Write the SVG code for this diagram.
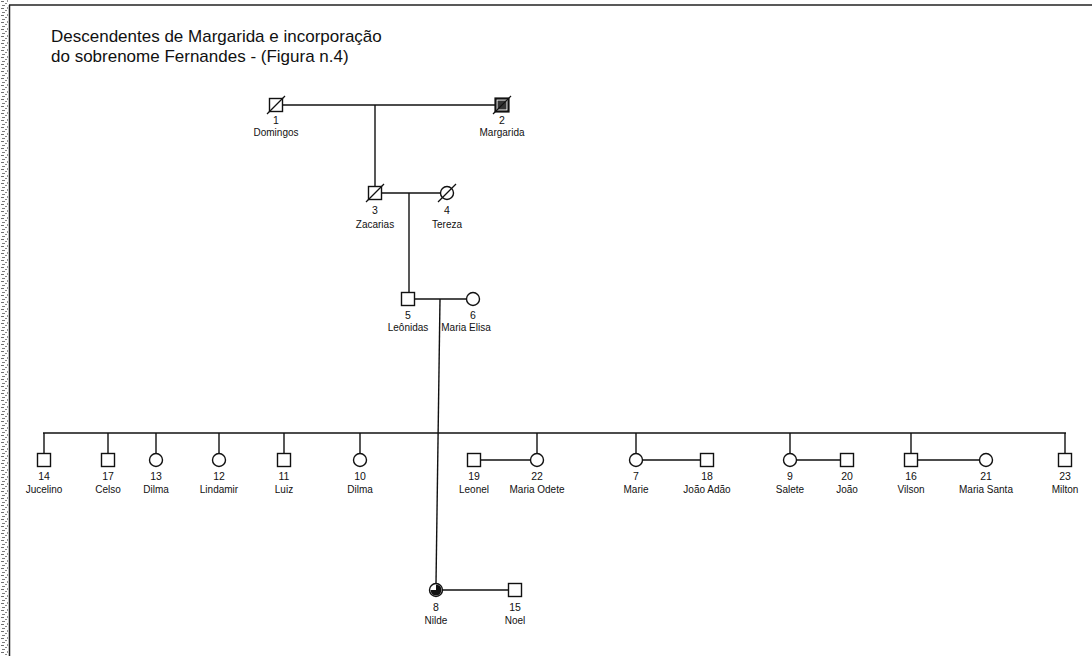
<svg xmlns="http://www.w3.org/2000/svg" width="1092" height="656" viewBox="0 0 1092 656">
  <style>
    .sym { fill: #fff; stroke: #111; stroke-width: 1.4; }
    .ln { fill: none; stroke: #111; stroke-width: 1.4; }
    .dead { stroke: #111; stroke-width: 1.2; }
    .num { font-family: "Liberation Sans", Arial, sans-serif; font-size: 10.5px; text-anchor: middle; fill: #111; }
    .nm { font-family: "Liberation Sans", Arial, sans-serif; font-size: 10px; text-anchor: middle; fill: #111; }
    .title { font-family: "Liberation Sans", Arial, sans-serif; font-size: 17px; fill: #111; }
  </style>
  <defs>
    <rect id="sq" x="-6.5" y="-6.5" width="13" height="13"/>
    <circle id="ci" r="6.5"/>
    <line id="slash" x1="-9" y1="9" x2="9" y2="-9"/>
    <pattern id="grain" width="9" height="7" patternUnits="userSpaceOnUse">
      <rect x="1" y="1" width="3" height="1" fill="#6f6f6f"/>
      <rect x="5" y="3" width="2" height="1" fill="#8a8a8a"/>
      <rect x="2" y="5" width="3" height="1" fill="#7d7d7d"/>
      <rect x="7" y="0" width="1" height="2" fill="#9a9a9a"/>
    </pattern>
  </defs>

  <rect width="1092" height="656" fill="#fff"/>

  <!-- page frame -->
  <g id="frame">
    <rect x="0" y="0" width="8" height="656" fill="url(#grain)"/>
    <line x1="9.5" y1="5" x2="9.5" y2="656" stroke="#222" stroke-width="1.5"/>
    <line x1="9" y1="5" x2="1092" y2="5" stroke="#222" stroke-width="1.5"/>
  </g>

  <g id="title">
    <text class="title" x="51" y="42">Descendentes de Margarida e incorporação</text>
    <text class="title" x="51" y="62">do sobrenome Fernandes - (Figura n.4)</text>
  </g>

  <!-- connectors -->
  <g id="connectors" class="ln">
    <!-- 1 x 2 -->
    <line x1="282.5" y1="105" x2="495.5" y2="105"/>
    <line x1="375" y1="105" x2="375" y2="186.5"/>
    <!-- 3 x 4 -->
    <line x1="381.5" y1="193" x2="440.5" y2="193"/>
    <line x1="409" y1="193" x2="409" y2="292.5"/>
    <!-- 5 x 6 -->
    <line x1="414.5" y1="299" x2="466.5" y2="299"/>
    <line x1="440" y1="299" x2="436" y2="583.5"/>
    <!-- sibship -->
    <line x1="43" y1="433" x2="1066" y2="433"/>
    <line x1="44" y1="433" x2="44" y2="453.5"/>
    <line x1="108" y1="433" x2="108" y2="453.5"/>
    <line x1="156" y1="433" x2="156" y2="453.5"/>
    <line x1="219" y1="433" x2="219" y2="453.5"/>
    <line x1="284" y1="433" x2="284" y2="453.5"/>
    <line x1="360" y1="433" x2="360" y2="453.5"/>
    <line x1="537" y1="433" x2="537" y2="453.5"/>
    <line x1="636" y1="433" x2="636" y2="453.5"/>
    <line x1="790" y1="433" x2="790" y2="453.5"/>
    <line x1="911" y1="433" x2="911" y2="453.5"/>
    <line x1="1065" y1="433" x2="1065" y2="453.5"/>
    <!-- marriages in the sibship -->
    <line x1="480.5" y1="460" x2="530.5" y2="460"/>
    <line x1="642.5" y1="460" x2="700.5" y2="460"/>
    <line x1="796.5" y1="460" x2="840.5" y2="460"/>
    <line x1="917.5" y1="460" x2="979.5" y2="460"/>
    <!-- 8 x 15 -->
    <line x1="442.5" y1="590" x2="508.5" y2="590"/>
  </g>

  <!-- generation I -->
  <g id="n1">
    <use href="#sq" class="sym" x="276" y="105"/>
    <use href="#slash" class="dead" x="276" y="105"/>
    <text class="num" x="276" y="124">1</text>
    <text class="nm" x="276" y="136">Domingos</text>
  </g>
  <g id="n2">
    <use href="#sq" class="sym" x="502" y="105" style="stroke-width:2.2"/>
    <rect x="497.5" y="100.5" width="9" height="9" fill="#333"/>
    <use href="#slash" class="dead" x="502" y="105"/>
    <text class="num" x="502" y="124">2</text>
    <text class="nm" x="502" y="136">Margarida</text>
  </g>

  <!-- generation II -->
  <g id="n3">
    <use href="#sq" class="sym" x="375" y="193"/>
    <use href="#slash" class="dead" x="375" y="193"/>
    <text class="num" x="375" y="214">3</text>
    <text class="nm" x="375" y="228">Zacarias</text>
  </g>
  <g id="n4">
    <use href="#ci" class="sym" x="447" y="193"/>
    <use href="#slash" class="dead" x="447" y="193"/>
    <text class="num" x="447" y="214">4</text>
    <text class="nm" x="447" y="228">Tereza</text>
  </g>

  <!-- generation III -->
  <g id="n5">
    <use href="#sq" class="sym" x="408" y="299"/>
    <text class="num" x="408" y="319">5</text>
    <text class="nm" x="408" y="331">Leônidas</text>
  </g>
  <g id="n6">
    <use href="#ci" class="sym" x="473" y="299"/>
    <text class="num" x="473" y="319">6</text>
    <text class="nm" x="466" y="331">Maria Elisa</text>
  </g>

  <!-- generation IV -->
  <g id="n14">
    <use href="#sq" class="sym" x="44" y="460"/>
    <text class="num" x="44" y="480">14</text>
    <text class="nm" x="44" y="493">Jucelino</text>
  </g>
  <g id="n17">
    <use href="#sq" class="sym" x="108" y="460"/>
    <text class="num" x="108" y="480">17</text>
    <text class="nm" x="108" y="493">Celso</text>
  </g>
  <g id="n13">
    <use href="#ci" class="sym" x="156" y="460"/>
    <text class="num" x="156" y="480">13</text>
    <text class="nm" x="156" y="493">Dilma</text>
  </g>
  <g id="n12">
    <use href="#ci" class="sym" x="219" y="460"/>
    <text class="num" x="219" y="480">12</text>
    <text class="nm" x="219" y="493">Lindamir</text>
  </g>
  <g id="n11">
    <use href="#sq" class="sym" x="284" y="460"/>
    <text class="num" x="284" y="480">11</text>
    <text class="nm" x="284" y="493">Luiz</text>
  </g>
  <g id="n10">
    <use href="#ci" class="sym" x="360" y="460"/>
    <text class="num" x="360" y="480">10</text>
    <text class="nm" x="360" y="493">Dilma</text>
  </g>
  <g id="n19">
    <use href="#sq" class="sym" x="474" y="460"/>
    <text class="num" x="474" y="480">19</text>
    <text class="nm" x="474" y="493">Leonel</text>
  </g>
  <g id="n22">
    <use href="#ci" class="sym" x="537" y="460"/>
    <text class="num" x="537" y="480">22</text>
    <text class="nm" x="537" y="493">Maria Odete</text>
  </g>
  <g id="n7">
    <use href="#ci" class="sym" x="636" y="460"/>
    <text class="num" x="636" y="480">7</text>
    <text class="nm" x="636" y="493">Marie</text>
  </g>
  <g id="n18">
    <use href="#sq" class="sym" x="707" y="460"/>
    <text class="num" x="707" y="480">18</text>
    <text class="nm" x="707" y="493">João Adão</text>
  </g>
  <g id="n9">
    <use href="#ci" class="sym" x="790" y="460"/>
    <text class="num" x="790" y="480">9</text>
    <text class="nm" x="790" y="493">Salete</text>
  </g>
  <g id="n20">
    <use href="#sq" class="sym" x="847" y="460"/>
    <text class="num" x="847" y="480">20</text>
    <text class="nm" x="847" y="493">João</text>
  </g>
  <g id="n16">
    <use href="#sq" class="sym" x="911" y="460"/>
    <text class="num" x="911" y="480">16</text>
    <text class="nm" x="911" y="493">Vilson</text>
  </g>
  <g id="n21">
    <use href="#ci" class="sym" x="986" y="460"/>
    <text class="num" x="986" y="480">21</text>
    <text class="nm" x="986" y="493">Maria Santa</text>
  </g>
  <g id="n23">
    <use href="#sq" class="sym" x="1065" y="460"/>
    <text class="num" x="1065" y="480">23</text>
    <text class="nm" x="1065" y="493">Milton</text>
  </g>

  <!-- generation V -->
  <g id="n8">
    <use href="#ci" class="sym" x="436" y="590"/>
    <path d="M436 590 m-5.5 0 a5.5 5.5 0 1 0 11 0 a5.5 5.5 0 0 0 -5.5 -5.5 l0 5.5 z" fill="#111"/>
    <text class="num" x="436" y="611">8</text>
    <text class="nm" x="436" y="624">Nilde</text>
  </g>
  <g id="n15">
    <use href="#sq" class="sym" x="515" y="590"/>
    <text class="num" x="515" y="611">15</text>
    <text class="nm" x="515" y="624">Noel</text>
  </g>
</svg>
